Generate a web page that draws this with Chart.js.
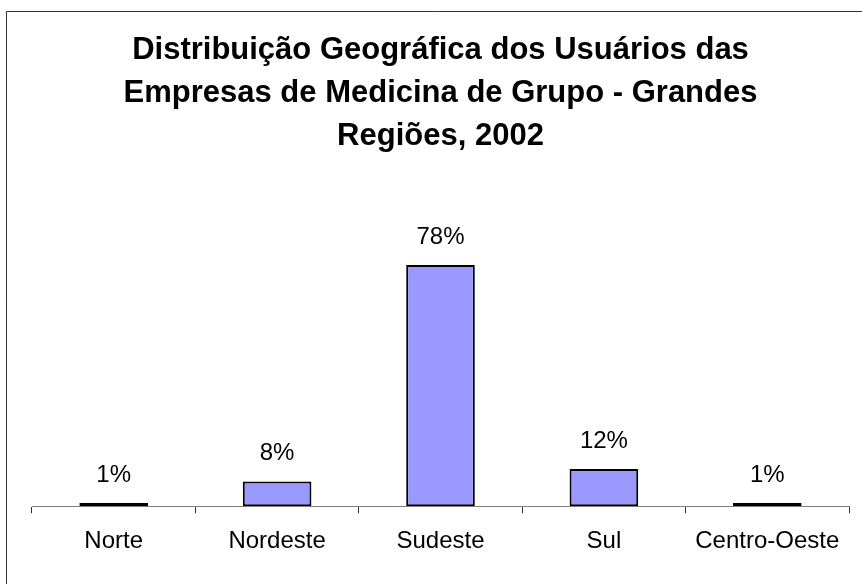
<!DOCTYPE html>
<html>
<head>
<meta charset="utf-8">
<script src="https://cdn.jsdelivr.net/npm/chart.js@4/dist/chart.umd.min.js"></script>
<style>
  html, body { margin: 0; padding: 0; background: #fff; }
  #wrap { width: 862px; height: 584px; position: relative; }
</style>
</head>
<body>
<div id="wrap"><canvas id="c" width="862" height="584"></canvas></div>
<script>
const titleLines = ['Distribuição Geográfica dos Usuários das', 'Empresas de Medicina de Grupo - Grandes', 'Regiões, 2002'];
const categories = ['Norte', 'Nordeste', 'Sudeste', 'Sul', 'Centro-Oeste'];
const shares = [1, 8, 78, 12, 1];
const shareLabels = ['1%', '8%', '78%', '12%', '1%'];

const FONT = "'Liberation Sans', Arial, sans-serif";

const frame = {
  id: 'frame',
  afterDraw(chart) {
    const ctx = chart.ctx;
    ctx.save();
    ctx.strokeStyle = '#333';
    ctx.lineWidth = 1;
    ctx.beginPath();
    ctx.moveTo(6.5, chart.height);
    ctx.lineTo(6.5, 11.5);
    ctx.lineTo(chart.width, 11.5);
    ctx.stroke();
    ctx.restore();
  }
};

const valueLabels = {
  id: 'valueLabels',
  afterDatasetsDraw(chart) {
    const ctx = chart.ctx;
    const meta = chart.getDatasetMeta(0);
    ctx.save();
    ctx.font = '24px ' + FONT;
    ctx.fillStyle = '#000';
    ctx.textAlign = 'center';
    ctx.textBaseline = 'middle';
    meta.data.forEach((bar, i) => {
      ctx.fillText(shareLabels[i], bar.x, bar.y - 28);
    });
    ctx.restore();
  }
};

new Chart(document.getElementById('c'), {
  type: 'bar',
  data: {
    labels: categories,
    datasets: [{
      data: shares,
      backgroundColor: '#9999FF',
      borderColor: '#000',
      borderWidth: 2,
      borderSkipped: false,
      barPercentage: 0.42,
      categoryPercentage: 1
    }]
  },
  options: {
    responsive: false,
    animation: false,
    devicePixelRatio: 1,
    layout: { padding: { left: 32, right: 13, top: 0, bottom: 14 } },
    plugins: {
      legend: { display: false },
      tooltip: { enabled: false },
      title: {
        display: true,
        text: titleLines,
        color: '#000',
        font: { family: FONT, size: 31, weight: 'bold', lineHeight: 43 / 31 },
        padding: { top: 29, bottom: 70 }
      }
    },
    scales: {
      x: {
        offset: true,
        grid: {
          offset: true,
          drawOnChartArea: false,
          drawTicks: true,
          tickLength: 7,
          tickColor: '#333',
          lineWidth: 1
        },
        border: { display: true, color: '#808080', width: 1 },
        ticks: {
          color: '#000',
          padding: 14,
          font: { family: FONT, size: 24 }
        }
      },
      y: {
        display: false,
        min: 0,
        max: 90
      }
    }
  },
  plugins: [frame, valueLabels]
});
</script>
</body>
</html>
